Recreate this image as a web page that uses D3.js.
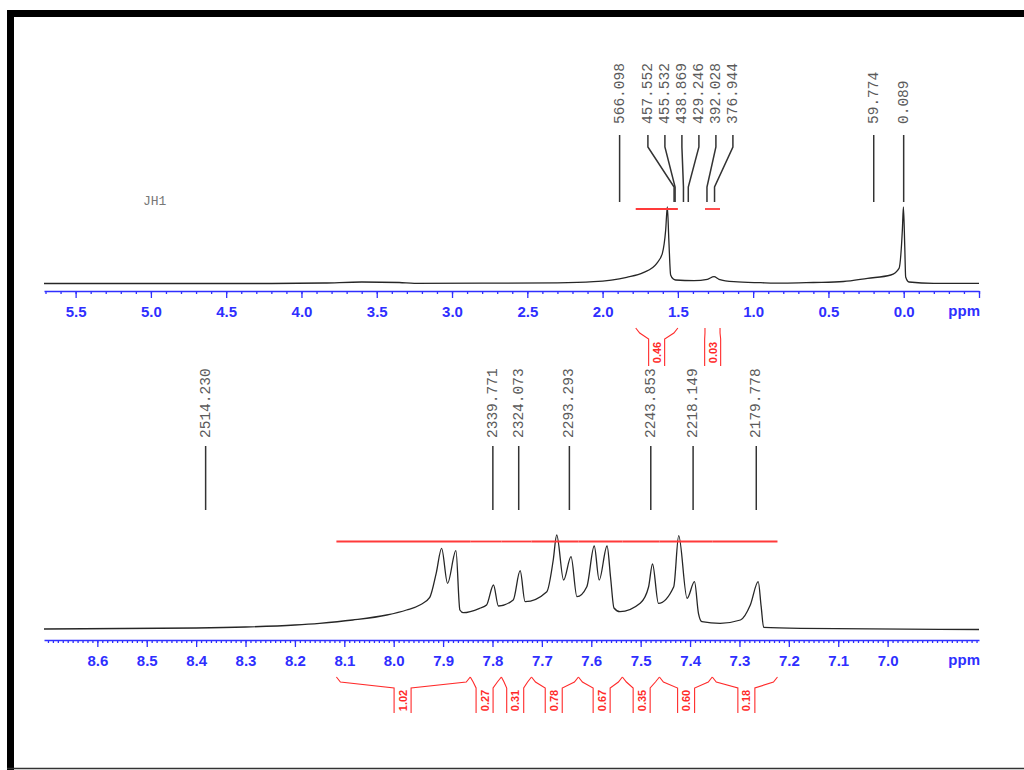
<!DOCTYPE html>
<html><head><meta charset="utf-8">
<script src="https://cdn.jsdelivr.net/npm/d3@7/dist/d3.min.js"></script>
<style>body{margin:0;background:#fff}svg{display:block}</style>
</head><body><svg id="c" width="1024" height="770"></svg>
<script>
// ---------------- DATA ----------------
const sampleName = "JH1";
const spectrometerMHz = 300;
const axisUnit = "ppm";

// Top panel (full range)
const topDomain = [5.71, -0.50];
const topMajorTicks = [5.5, 5.0, 4.5, 4.0, 3.5, 3.0, 2.5, 2.0, 1.5, 1.0, 0.5, 0.0, -0.5];
const topSpecPpm = [5.71, 5.0, 4.2, 3.85, 3.6, 3.35, 3.25, 2.8, 2.3, 2.06, 1.84, 1.73, 1.64, 1.603, 1.581, 1.570, 1.560, 1.548, 1.53, 1.515, 1.393, 1.304, 1.26, 1.227, 1.128, 0.95, 0.8, 0.6, 0.4, 0.24, 0.086, 0.031, 0.009, 0.002, -0.007, -0.013, -0.035, -0.2, -0.5];
const topSpecInt = [0.5, 0.5, 0.5, 1, 2, 1.5, 0.7, 0.8, 1.2, 2.3, 6.7, 11.3, 20.7, 30.7, 54, 77, 44, 9, 5, 4, 3.3, 4.7, 7.3, 4.7, 2.3, 1.3, 0.8, 1.5, 2.5, 5.7, 9, 15.7, 54, 77, 37, 7, 2, 0.7, 0.7];
const topPeakHz = [566.098, 457.552, 455.532, 438.869, 429.246, 392.028, 376.944, 59.774, 0.089];
const topPeakText = ["566.098", "457.552", "455.532", "438.869", "429.246", "392.028", "376.944", "59.774", "0.089"];
const topIntFrom = [1.78, 1.32];
const topIntTo = [1.50, 1.22];
const topIntStem = [1.641, 1.269];
const topIntValue = ["0.46", "0.03"];

// Bottom panel (aromatic expansion)
const botDomain = [8.708, 6.815];
const botMajorTicks = [8.6, 8.5, 8.4, 8.3, 8.2, 8.1, 8.0, 7.9, 7.8, 7.7, 7.6, 7.5, 7.4, 7.3, 7.2, 7.1, 7.0];
const botSpecPpm = [8.708, 8.55, 8.40, 8.30, 8.20, 8.150, 8.083, 8.014, 7.974, 7.947, 7.927, 7.914, 7.903, 7.891, 7.874, 7.866, 7.859, 7.826, 7.812, 7.798, 7.788, 7.758, 7.744, 7.734, 7.690, 7.677, 7.670, 7.656, 7.641, 7.629, 7.609, 7.594, 7.584, 7.568, 7.561, 7.554, 7.542, 7.501, 7.484, 7.476, 7.464, 7.433, 7.423, 7.406, 7.391, 7.383, 7.376, 7.339, 7.298, 7.278, 7.262, 7.256, 7.251, 7.176, 6.815];
const botSpecInt = [1, 1.5, 2, 3, 5, 6.7, 10, 15, 20, 25, 32.7, 56.7, 81.7, 46.7, 79.3, 20, 17.3, 21.7, 25, 45, 24, 30, 59.3, 28.3, 38.3, 70, 95, 50, 73.3, 33.3, 43.3, 84, 50, 84, 53, 22, 18.3, 26.7, 43, 66, 26.7, 43.3, 94.3, 31.7, 48.3, 16.7, 8.3, 6.7, 10, 25, 48.3, 23.3, 2.7, 1.7, 0.5];
const botPeakHz = [2514.230, 2339.771, 2324.073, 2293.293, 2243.853, 2218.149, 2179.778];
const botPeakText = ["2514.230", "2339.771", "2324.073", "2293.293", "2243.853", "2218.149", "2179.778"];
const botIntFrom = [8.116, 7.845, 7.782, 7.721, 7.626, 7.537, 7.462, 7.355];
const botIntTo   = [7.845, 7.782, 7.721, 7.626, 7.537, 7.462, 7.355, 7.223];
const botIntStem = [7.982, 7.816, 7.754, 7.676, 7.579, 7.498, 7.408, 7.286];
const botIntValue = ["1.02", "0.27", "0.31", "0.78", "0.67", "0.35", "0.60", "0.18"];

// ---------------- LAYOUT ----------------
const L = {
  left: 44, right: 979,
  top: {axisY: 291, base: 284, peakY: 207, intMax: 77, labelBase: 124, lineTop: 135, kinkY: 147, bendY: 187, lineBot: 202,
        intLineY: 209, brTop: 328, brBot: 366},
  bot: {axisY: 640, base: 630, peakY: 535, intMax: 95, labelBase: 438, lineTop: 446, lineBot: 510,
        intLineY: 541.5, brTop: 677, brBot: 713}
};
const BLUE = "#2f2fff", RED = "#ff2a2a", SPEC = "#262626", LBL = "#5a5a5a";

const svg = d3.select("#c");
svg.append("rect").attr("width", 1024).attr("height", 770).attr("fill", "#fff");
// frame
svg.append("rect").attr("x", 7).attr("y", 10).attr("width", 1017).attr("height", 7).attr("fill", "#000");
svg.append("rect").attr("x", 7).attr("y", 10).attr("width", 7).attr("height", 760).attr("fill", "#000");
svg.append("line").attr("x1", 7).attr("x2", 1024).attr("y1", 768.5).attr("y2", 768.5).attr("stroke", "#333").attr("stroke-width", 1.5);

function spread(xs, gap) {
  const idx = xs.map((x, i) => i).sort((a, b) => xs[a] - xs[b]);
  let clusters = idx.map(i => [i]);
  const place = () => clusters.map(c => {
    const m = d3.mean(c, i => xs[i]);
    return c.map((i, k) => m + (k - (c.length - 1) / 2) * gap);
  });
  let changed = true;
  while (changed) {
    changed = false;
    const pos = place();
    for (let k = 0; k < clusters.length - 1; k++) {
      const a = pos[k][pos[k].length - 1], b = pos[k + 1][0];
      if (b - a < gap - 0.01) { clusters[k] = clusters[k].concat(clusters[k + 1]); clusters.splice(k + 1, 1); changed = true; break; }
    }
  }
  const out = [];
  place().forEach((p, k) => clusters[k].forEach((i, j) => out[i] = p[j]));
  return out;
}

function bracket(x1, xs, x2, yT, yB, h) {
  const dl = Math.min(4, Math.max(0, (xs - h - x1) / 2));
  const dr = Math.min(4, Math.max(0, (x2 - xs - h) / 2));
  return `M${x1},${yT}L${x1 + dl},${yT + 5}L${xs - h},${yT + 11}L${xs - h},${yB}` +
         `M${xs + h},${yB}L${xs + h},${yT + 11}L${x2 - dr},${yT + 5}L${x2},${yT}`;
}

function panel(cfg) {
  const P = cfg.lay;
  const x = d3.scaleLinear().domain(cfg.domain).range([L.left, L.right]);
  const y = d3.scaleLinear().domain([0, P.intMax]).range([P.base, P.peakY]);
  const g = svg.append("g");

  // axis
  const minor = d3.range(Math.round(cfg.domain[1] / cfg.minorStep), Math.round(cfg.domain[0] / cfg.minorStep) + 1)
    .map(k => +(k * cfg.minorStep).toFixed(3)).filter(v => v <= cfg.domain[0] && v >= cfg.domain[1]);
  const ga = g.append("g").attr("transform", `translate(0,${P.axisY})`);
  ga.call(d3.axisBottom(x).tickValues(minor).tickSize(3).tickSizeOuter(0).tickFormat(""));
  ga.select(".domain").remove();
  const gm = g.append("g").attr("transform", `translate(0,${P.axisY})`);
  gm.call(d3.axisBottom(x).tickValues(cfg.major).tickSize(7).tickSizeOuter(0)
    .tickFormat(d => (cfg.hideNeg && d < 0) ? "" : d3.format(".1f")(d)));
  [ga, gm].forEach(s => { s.selectAll("line").attr("stroke", BLUE).attr("stroke-width", 1.3); });
  gm.select(".domain").attr("stroke", BLUE).attr("stroke-width", 1.6);
  gm.selectAll("text").attr("y", 26).attr("dy", null).attr("fill", BLUE)
    .style("font", "bold 15px 'Liberation Sans', Arial, sans-serif");
  g.append("text").attr("x", L.right + 1).attr("y", P.axisY + 25).attr("text-anchor", "end")
    .attr("fill", BLUE).style("font", "bold 15px 'Liberation Sans', Arial, sans-serif").text(axisUnit);

  // spectrum
  const pts = cfg.ppm.map((p, i) => [p, cfg.intens[i]]);
  g.append("path").datum(pts).attr("fill", "none").attr("stroke", SPEC).attr("stroke-width", 1.3)
    .attr("stroke-linejoin", "round")
    .attr("d", d3.line().x(d => x(d[0])).y(d => y(d[1])).curve(d3.curveMonotoneX));

  // peak labels
  const peakX = cfg.hz.map(h => x(h / spectrometerMHz));
  const labX = spread(peakX, 17);
  cfg.hz.forEach((h, i) => {
    const px = peakX[i], lx = labX[i];
    let d;
    if (P.kinkY) d = `M${lx},${P.lineTop}L${lx},${P.kinkY}L${px},${P.bendY}L${px},${P.lineBot}`;
    else d = `M${lx},${P.lineTop}L${px},${P.lineBot}`;
    g.append("path").attr("d", d).attr("fill", "none").attr("stroke", "#333").attr("stroke-width", 1.5);
    g.append("text").attr("transform", `translate(${lx},${P.labelBase}) rotate(-90)`)
      .attr("dominant-baseline", "central").attr("fill", LBL)
      .style("font", "14.5px 'Liberation Mono', 'Courier New', monospace").text(cfg.hzText[i]);
  });

  // integrals
  cfg.intFrom.forEach((a, i) => {
    const x1 = x(a), x2 = x(cfg.intTo[i]), xs = x(cfg.intStem[i]);
    g.append("line").attr("x1", x1).attr("x2", x2).attr("y1", P.intLineY).attr("y2", P.intLineY)
      .attr("stroke", "#ff3a3a").attr("stroke-width", 1.8);
    g.append("path").attr("d", bracket(x1, xs, x2, P.brTop, P.brBot, cfg.stemH))
      .attr("fill", "none").attr("stroke", RED).attr("stroke-width", 1.1);
    g.append("text").attr("transform", `translate(${xs},${(P.brTop + 11 + P.brBot) / 2}) rotate(-90)`)
      .attr("text-anchor", "middle").attr("dominant-baseline", "central").attr("fill", RED)
      .style("font", "bold 11px 'Liberation Sans', Arial, sans-serif").text(cfg.intVal[i]);
  });
  return g;
}

panel({lay: L.top, domain: topDomain, major: topMajorTicks, minorStep: 0.1, hideNeg: true,
  ppm: topSpecPpm, intens: topSpecInt, hz: topPeakHz, hzText: topPeakText,
  intFrom: topIntFrom, intTo: topIntTo, intStem: topIntStem, intVal: topIntValue, stemH: 8});
panel({lay: L.bot, domain: botDomain, major: botMajorTicks, minorStep: 0.01, hideNeg: false,
  ppm: botSpecPpm, intens: botSpecInt, hz: botPeakHz, hzText: botPeakText,
  intFrom: botIntFrom, intTo: botIntTo, intStem: botIntStem, intVal: botIntValue, stemH: 8.5});

svg.append("text").attr("x", 143).attr("y", 205).attr("fill", "#777")
  .style("font", "13px 'Liberation Mono', 'Courier New', monospace").text(sampleName);
</script></body></html>
